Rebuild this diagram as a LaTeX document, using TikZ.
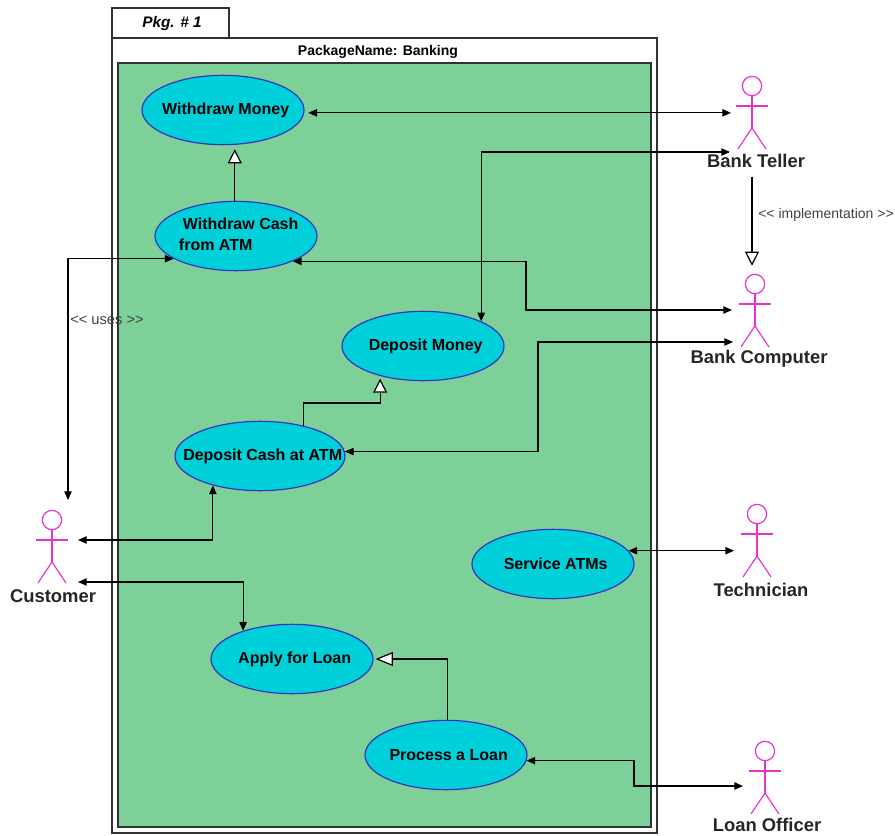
\documentclass[tikz,border=0pt]{standalone}
\usepackage{fontspec}
\setmainfont{Liberation Sans}
\usetikzlibrary{arrows.meta, shapes.geometric}
\definecolor{pkggreen}{RGB}{124,208,152}
\definecolor{casecyan}{RGB}{0,208,218}
\definecolor{caseblue}{RGB}{60,50,190}
\definecolor{actorpink}{RGB}{230,50,205}
\definecolor{pkgline}{RGB}{50,50,50}
\newcommand{\caselabel}[1]{\makebox[0pt]{\hspace{4pt}\raisebox{-1.3pt}{#1}}}
\tikzset{
    usecase/.style={ellipse, draw=caseblue, fill=casecyan, line width=0.9pt, minimum width=121.5pt, minimum height=52pt, inner sep=0pt, font=\bfseries\fontsize{12}{16}\selectfont},
    actorhead/.style={circle, draw=actorpink, line width=0.9pt, minimum size=14.5pt, inner sep=0pt},
    actorline/.style={draw=actorpink, line width=0.9pt},
    actorname/.style={font=\bfseries\fontsize{13.8}{16}\selectfont, text=black!85, inner sep=1pt},
    assoc/.style={line width=0.9pt, {Triangle[length=6.5pt,width=5.5pt]}-{Triangle[length=6.5pt,width=5.5pt]}},
    gen/.style={line width=0.9pt, -{Triangle[length=10.5pt,width=10.5pt,fill=white]}},
    genlong/.style={line width=0.9pt, -{Triangle[length=13pt,width=10.5pt,fill=white]}},
    smalltext/.style={font=\fontsize{10.5}{12}\selectfont, text=black!75, inner sep=0pt}
}
\begin{document}
\begin{tikzpicture}[x=0.75pt, y=-0.75pt]
        \useasboundingbox (0,0) rectangle (895,835);

        \draw[pkgline, line width=0.9pt, fill=white] (112,8) rectangle (229,38);
        \draw[pkgline, line width=0.9pt, fill=white] (112,38) rectangle (657,833);
        \draw[pkgline, line width=0.9pt, fill=pkggreen] (118,63) rectangle (651,827);
        \node[inner sep=0pt, font=\bfseries\itshape\fontsize{11.5}{13}\selectfont] (pkgtab) at (172,24) {Pkg. \# 1};
        \node[inner sep=0pt, font=\bfseries\fontsize{10.5}{12}\selectfont] (pkgname) at (378,52) {PackageName: Banking};

        \node[usecase] (wm) at (223,110) {\caselabel{Withdraw Money}};
        \node[usecase] (wc) at (236,236) {\caselabel{\begin{tabular}{@{}l@{}}\hspace*{3pt}Withdraw Cash\\from ATM\end{tabular}}};
        \node[usecase] (dm) at (423,346) {\caselabel{Deposit Money}};
        \node[usecase, minimum width=127.5pt] (dc) at (260,456) {\caselabel{Deposit Cash at ATM}};
        \node[usecase] (sa) at (553,564) {\caselabel{Service ATMs}};
        \node[usecase] (ap) at (292,659) {\caselabel{Apply for Loan}};
        \node[usecase] (pl) at (446,755) {\caselabel{Process a Loan}};

        \foreach \name/\x/\y/\lx/\ly/\txt in {teller/752/86/756/161/Bank Teller, computer/755/284/759/359/Bank Computer, customer/52/520/53/596/Customer, technician/757/514/761/590/Technician, officer/765/751/767/825/Loan Officer} {
            \node[actorhead] (\name) at (\x,\y) {};
            \node[actorname] (\name text) at (\lx,\ly) {\txt};
            \begin{scope}[shift={(\x,\y)}]
                \draw[actorline] (\name.south) -- (0,42);
                \draw[actorline] (-16,20) -- (16,20);
                \draw[actorline] (-14,63) -- (0,42) -- (14,63);
            \end{scope}
        }

        \coordinate (tellerA) at (731,113);
        \coordinate (tellerB) at (730,152);
        \coordinate (computerA) at (732,310);
        \coordinate (computerB) at (733,342);
        \coordinate (customerA) at (68,500);
        \coordinate (customerB) at (78,540);
        \coordinate (customerC) at (78,582);
        \coordinate (technicianA) at (734,551);
        \coordinate (officerA) at (743,786);
        \coordinate (bendA) at (526,290);
        \coordinate (bendB) at (538,400);
        \coordinate (bendC) at (340,403);
        \coordinate (bendD) at (634,770);

        \draw[assoc, shorten <=3pt] (wm.-2) -- (wm.-2 -| tellerA);
        \draw[assoc] (dm.23) |- (tellerB);
        \draw[assoc] (wc.-24) -| (bendA) |- (computerA);
        \draw[assoc] (dc.3) -| (bendB) |- (computerB);
        \draw[assoc] (wc.200) -| (customerA);
        \draw[assoc] (customerB) -| (dc.-148);
        \draw[assoc] (customerC) -| (ap.150);
        \draw[assoc] (sa.10) -- (sa.10 -| technicianA);
        \draw[assoc] (pl.-4) -| (bendD) |- (officerA);

        \draw[gen, shorten >=3pt] (wc.92) -- (wm.south -| wc.92);
        \draw[gen, shorten >=2pt] (dc.35) |- (bendC) -| (dm.215);
        \draw[genlong, shorten >=1.5pt] (pl.88) |- (ap.east);
        \draw[gen, shorten <=5.5pt, shorten >=6pt] (teller |- tellertext.south) -- (teller |- computer.north);

        \node[smalltext] (implementation) at (826,215) {<{}< implementation >{}>};
        \node[smalltext, font=\fontsize{11}{12}\selectfont] (uses) at (107,320) {<{}< uses >{}>};
\end{tikzpicture}
\end{document}
